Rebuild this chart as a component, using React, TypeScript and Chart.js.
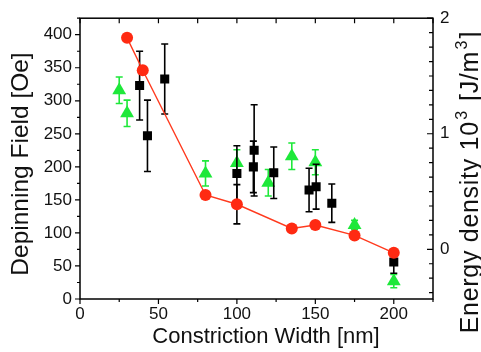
import { useEffect, useRef } from 'react';
import { Chart, registerables } from 'chart.js';

Chart.register(...registerables);

// Energy density (right axis, 10^3 J/m^3)
const energyWidths = [30, 40, 80, 100, 135, 150, 175, 200];
const energyValues = [1.83, 1.55, 0.47, 0.39, 0.18, 0.21, 0.12, -0.03];
const energyErrors = [0, 0, 0, 0.17, 0, 0, 0, 0];

// Depinning field, black squares (left axis, Oe)
const squareWidths = [38, 43, 54, 100, 110.5, 111, 123.5, 146, 150.5, 160.5, 200];
const squareField = [323, 247, 333, 190, 200, 225, 191, 165, 170, 145, 56];
const squareErrors = [52, 54, 53, 42, 39, 69, 39, 33, 34, 29, 17];

// Depinning field, green triangles (left axis, Oe)
const triWidths = [25, 30, 80, 100, 120, 135, 150, 175, 200];
const triField = [316, 281, 190, 206, 176, 216, 207, 112, 27];
const triErrors = [20, 20, 19, 20, 20, 20, 19, 7, 10];

const xTickValues = [0, 50, 100, 150, 200];
const yTickValues = [0, 50, 100, 150, 200, 250, 300, 350, 400];
const y2TickValues = [0, 1, 2];

const xTitle = 'Constriction Width [nm]';
const yTitle = 'Depinning Field [Oe]';

const FONT = '"Liberation Sans", Arial, sans-serif';
const RED = '#ff2a12';
const GREEN = '#1ee83a';
const BLACK = '#000000';

const errorSets = [
  { errors: energyErrors, color: BLACK },
  { errors: squareErrors, color: BLACK },
  { errors: triErrors, color: GREEN },
];

const errorBarPlugin = {
  id: 'errorBars',
  beforeDatasetDraw(chart: any, args: any) {
    const set = errorSets[args.index];
    if (!set) return;
    const meta = args.meta;
    const yScale = meta.yScale;
    const ds = chart.data.datasets[args.index];
    const ctx = chart.ctx;
    ctx.save();
    ctx.strokeStyle = set.color;
    ctx.lineWidth = 1.6;
    meta.data.forEach((pt: any, i: number) => {
      const e = set.errors[i];
      if (!e) return;
      const v = ds.data[i].y;
      const x = pt.x;
      const yTop = yScale.getPixelForValue(v + e);
      const yBot = yScale.getPixelForValue(v - e);
      ctx.beginPath();
      ctx.moveTo(x, yTop);
      ctx.lineTo(x, yBot);
      ctx.moveTo(x - 3.5, yTop);
      ctx.lineTo(x + 3.5, yTop);
      ctx.moveTo(x - 3.5, yBot);
      ctx.lineTo(x + 3.5, yBot);
      ctx.stroke();
    });
    ctx.restore();
  },
};

const framePlugin = {
  id: 'frameTicks',
  afterDraw(chart: any) {
    const { ctx, chartArea } = chart;
    const { left, right, top, bottom } = chartArea;
    const xs = chart.scales.x;
    const ys = chart.scales.y;
    const y2 = chart.scales.y1;
    ctx.save();
    ctx.strokeStyle = '#000';
    ctx.lineWidth = 1.5;
    ctx.strokeRect(left, top, right - left, bottom - top);
    ctx.lineWidth = 1.2;
    ctx.beginPath();
    // bottom (outward) and top (inward) ticks
    for (let v = 0; v <= 225; v += 25) {
      const px = xs.getPixelForValue(v);
      const major = v % 50 === 0;
      ctx.moveTo(px, bottom);
      ctx.lineTo(px, bottom + (major ? 5 : 3));
      ctx.moveTo(px, top);
      ctx.lineTo(px, top + 5);
    }
    // left ticks (outward)
    for (let v = 0; v <= 425; v += 25) {
      const py = ys.getPixelForValue(v);
      const major = v % 50 === 0;
      ctx.moveTo(left, py);
      ctx.lineTo(left - (major ? 5 : 3), py);
    }
    // right ticks (inward)
    for (let k = -3; k <= 16; k++) {
      const v = k * 0.125;
      const py = y2.getPixelForValue(v);
      const major = k % 8 === 0;
      ctx.moveTo(right, py);
      ctx.lineTo(right - (major ? 6 : 4), py);
    }
    ctx.stroke();

    // titles
    ctx.fillStyle = '#111';
    ctx.font = `22px ${FONT}`;
    ctx.textAlign = 'center';
    ctx.textBaseline = 'alphabetic';
    ctx.fillText(xTitle, 266, 343);

    ctx.save();
    ctx.font = `24.5px ${FONT}`;
    ctx.translate(28, 164);
    ctx.rotate(-Math.PI / 2);
    ctx.fillText(yTitle, 0, 0);
    ctx.restore();

    // right title with superscripts
    ctx.save();
    ctx.translate(478, 182);
    ctx.rotate(-Math.PI / 2);
    ctx.textAlign = 'left';
    (ctx as any).letterSpacing = '0.7px';
    const mainF = `25px ${FONT}`;
    const supF = `16px ${FONT}`;
    const parts: [string, boolean][] = [
      ['Energy density 10', false],
      ['3', true],
      [' [J/m', false],
      ['3', true],
      [']', false],
    ];
    let total = 0;
    const widths = parts.map(([t, sup]) => {
      ctx.font = sup ? supF : mainF;
      const w = ctx.measureText(t).width + (sup ? 3 : 0);
      total += w;
      return w;
    });
    let cx = -total / 2;
    parts.forEach(([t, sup], i) => {
      ctx.font = sup ? supF : mainF;
      ctx.fillText(t, cx + (sup ? 1.5 : 0), sup ? -11 : 0);
      cx += widths[i];
    });
    ctx.restore();
    ctx.restore();
  },
};

export default function App() {
  const ref = useRef<HTMLCanvasElement | null>(null);
  useEffect(() => {
    if (!ref.current) return;
    const chart = new Chart(ref.current, {
      type: 'scatter',
      data: {
        datasets: [
          {
            label: 'Energy density',
            data: energyWidths.map((x, i) => ({ x, y: energyValues[i] })),
            yAxisID: 'y1',
            showLine: true,
            borderColor: '#ff3a1e',
            borderWidth: 1.4,
            pointStyle: 'circle',
            pointRadius: 6,
            pointBackgroundColor: RED,
            pointBorderColor: RED,
            pointBorderWidth: 0,
            order: 0,
          },
          {
            label: 'Depinning field A',
            data: squareWidths.map((x, i) => ({ x, y: squareField[i] })),
            yAxisID: 'y',
            showLine: false,
            pointStyle: 'rect',
            pointRadius: 6.4,
            pointBackgroundColor: BLACK,
            pointBorderColor: BLACK,
            pointBorderWidth: 0,
            order: 1,
          },
          {
            label: 'Depinning field B',
            data: triWidths.map((x, i) => ({ x, y: triField[i] })),
            yAxisID: 'y',
            showLine: false,
            pointStyle: 'triangle',
            pointRadius: 8,
            pointBackgroundColor: GREEN,
            pointBorderColor: GREEN,
            pointBorderWidth: 0,
            order: 2,
          },
        ],
      },
      options: {
        animation: false,
        responsive: false,
        layout: { padding: { top: 15, left: 0, right: 0, bottom: 0 } },
        plugins: { legend: { display: false }, tooltip: { enabled: false } },
        scales: {
          x: {
            type: 'linear',
            position: 'bottom',
            min: 0,
            max: 225,
            afterFit: (s: any) => { s.height = 53; },
            afterBuildTicks: (s: any) => { s.ticks = xTickValues.map((v) => ({ value: v })); },
            grid: { display: false, drawTicks: false },
            border: { display: false },
            ticks: { font: { family: FONT, size: 17 }, color: '#111', padding: 5, maxRotation: 0, autoSkip: false },
          },
          y: {
            type: 'linear',
            position: 'left',
            min: 0,
            max: 425,
            afterFit: (s: any) => { s.width = 80; },
            afterBuildTicks: (s: any) => { s.ticks = yTickValues.map((v) => ({ value: v })); },
            grid: { display: false, drawTicks: false },
            border: { display: false },
            ticks: { font: { family: FONT, size: 17 }, color: '#111', padding: 8, autoSkip: false },
          },
          y1: {
            type: 'linear',
            position: 'right',
            min: -0.43,
            max: 2,
            afterFit: (s: any) => { s.width = 48; },
            afterBuildTicks: (s: any) => { s.ticks = y2TickValues.map((v) => ({ value: v })); },
            grid: { display: false, drawTicks: false },
            border: { display: false },
            ticks: { font: { family: FONT, size: 17 }, color: '#111', padding: 7, autoSkip: false },
          },
        },
      },
      plugins: [errorBarPlugin, framePlugin],
    });
    return () => chart.destroy();
  }, []);
  return (
    <div style={{ position: 'absolute', left: 0, top: 0, width: 481, height: 352, background: '#fff' }}>
      <canvas ref={ref} width={481} height={352} style={{ display: 'block' }} />
    </div>
  );
}
